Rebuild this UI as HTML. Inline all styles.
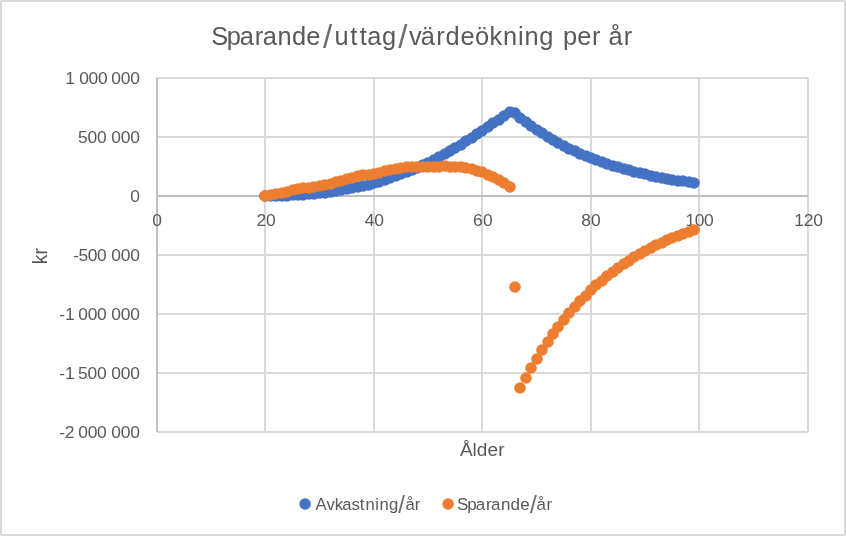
<!DOCTYPE html>
<html lang="sv"><head><meta charset="utf-8"><title>Sparande/uttag/värdeökning per år</title>
<style>html,body{margin:0;padding:0;background:#fff;overflow:hidden}svg{display:block}text{font-family:"Liberation Sans",sans-serif;fill:#595959}</style>
</head><body>
<svg width="846" height="536" viewBox="0 0 846 536">
<rect x="0" y="0" width="846" height="536" fill="#fff"/>
<rect x="1" y="1" width="844" height="534" fill="none" stroke="#D9D9D9" stroke-width="2"/>
<g fill="#ECECEC"><rect x="0" y="0" width="1" height="1"/><rect x="845" y="0" width="1" height="1"/><rect x="0" y="535" width="1" height="1"/><rect x="845" y="535" width="1" height="1"/></g>
<g stroke="#D9D9D9" stroke-width="2" fill="none">
<line x1="157" y1="78" x2="808" y2="78"/>
<line x1="157" y1="137" x2="808" y2="137"/>
<line x1="157" y1="255" x2="808" y2="255"/>
<line x1="157" y1="314" x2="808" y2="314"/>
<line x1="157" y1="373" x2="808" y2="373"/>
<line x1="157" y1="432" x2="808" y2="432"/>
<line x1="265" y1="78" x2="265" y2="432"/>
<line x1="374" y1="78" x2="374" y2="432"/>
<line x1="482" y1="78" x2="482" y2="432"/>
<line x1="591" y1="78" x2="591" y2="432"/>
<line x1="699" y1="78" x2="699" y2="432"/>
<line x1="808" y1="78" x2="808" y2="432"/>
</g>
<g stroke="#BFBFBF" stroke-width="2" fill="none">
<line x1="157" y1="196" x2="808" y2="196"/>
<line x1="157" y1="78" x2="157" y2="432"/>
</g>
<text font-size="25.4" x="211.27 226.66 239.64 254.8 262.67 277.55 291.9 306.35 322.97 334.41 350.2 359.76 367.13 382 398.37 408.93 420.66 436.14 445.57 460.39 474.98 489.55 503.06 517.97 524.6 539.2 554.44 562.9 577.22 591.99 607.23 608.47 623.72" y="44.7 44.7 44.7 44.7 44.7 44.7 44.7 44.7 48.3 44.7 44.7 44.7 44.7 44.7 48.3 44.7 44.7 44.7 44.7 44.7 44.7 44.7 44.7 44.7 44.7 44.7 44.7 44.7 44.7 44.7 44.7 44.7 44.7">Sparande<tspan font-size="33.0" fill="#6e6e6e">/</tspan>uttag<tspan font-size="33.0" fill="#6e6e6e">/</tspan>värdeökning per år</text>
<text transform="scale(1.05 1)" font-size="16.6" x="62.06 72.02 75.41 84.38 93.36 103.32 105.95 115.05 124.15" y="84.2">1 000 000</text>
<text transform="scale(1.05 1)" font-size="16.6" x="74.37 83.4 92.33 102.29 105.95 115.05 124.15" y="143.2">500 000</text>
<text transform="scale(1.05 1)" font-size="16.6" x="124.15" y="202.2">0</text>
<text transform="scale(1.05 1)" font-size="16.6" x="69.73 74.79 83.65 92.41 102.37 105.95 115.05 124.15" y="261.2">-500 000</text>
<text transform="scale(1.05 1)" font-size="16.6" x="56.43 61.86 71.82 74.61 83.48 92.35 102.31 105.95 115.05 124.15" y="320.2">-1 000 000</text>
<text transform="scale(1.05 1)" font-size="16.6" x="56.43 61.86 71.82 74.37 83.4 92.33 102.29 105.95 115.05 124.15" y="379.2">-1 500 000</text>
<text transform="scale(1.05 1)" font-size="16.6" x="56.42 61.71 71.67 74.61 83.48 92.35 102.31 105.95 115.05 124.15" y="438.2">-2 000 000</text>
<text transform="scale(1.05 1)" font-size="16.6" x="144.91" y="226.3">0</text>
<text transform="scale(1.05 1)" font-size="16.6" x="244.24 253.44" y="226.3">20</text>
<text transform="scale(1.05 1)" font-size="16.6" x="347.36 356.43" y="226.3">40</text>
<text transform="scale(1.05 1)" font-size="16.6" x="450.53 460.11" y="226.3">60</text>
<text transform="scale(1.05 1)" font-size="16.6" x="553.47 562.94" y="226.3">80</text>
<text transform="scale(1.05 1)" font-size="16.6" x="652.76 661.56 670.51" y="226.3">100</text>
<text transform="scale(1.05 1)" font-size="16.6" x="756.43 765.39 774.45" y="226.3">120</text>
<text transform="scale(1.008 1)" font-size="18.9" x="456.29 468.68 473.05 483.59 494.24" y="456.1">Ålder</text>
<text transform="translate(47.1 262.9) rotate(-90) scale(0.9928 1)" font-size="19.6" x="-1.43 8.47" y="0">kr</text>
<text transform="scale(1.012 1)" font-size="16.5" x="311.75 322.52 330.67 338.28 347.29 355.59 361.26 370.84 375.02 384.36 393.59 400.63 409.94" y="509.8 509.8 509.8 509.8 509.8 509.8 509.8 509.8 509.8 509.8 512.6 509.8 509.8">Avkastning<tspan font-size="23.5" fill="#6e6e6e">/</tspan>år</text>
<text transform="scale(1.03 1)" font-size="16.5" x="443.62 453.56 461.94 471.74 476.81 486.42 495.68 505.01 514.6 520.85 530.59" y="509.8 509.8 509.8 509.8 509.8 509.8 509.8 509.8 512.6 509.8 509.8">Sparande<tspan font-size="23.5" fill="#6e6e6e">/</tspan>år</text>
<g fill="#4472C4">
<circle cx="265" cy="196" r="5.80"/>
<circle cx="271" cy="196" r="5.80"/>
<circle cx="276" cy="196" r="5.80"/>
<circle cx="282" cy="196" r="5.80"/>
<circle cx="287" cy="196" r="5.80"/>
<circle cx="293" cy="195" r="5.80"/>
<circle cx="298" cy="195" r="5.80"/>
<circle cx="303" cy="195" r="5.80"/>
<circle cx="309" cy="194" r="5.80"/>
<circle cx="314" cy="194" r="5.80"/>
<circle cx="320" cy="193" r="5.80"/>
<circle cx="325" cy="193" r="5.80"/>
<circle cx="331" cy="192" r="5.80"/>
<circle cx="336" cy="191" r="5.80"/>
<circle cx="341" cy="190" r="5.80"/>
<circle cx="347" cy="189" r="5.80"/>
<circle cx="352" cy="188" r="5.80"/>
<circle cx="358" cy="187" r="5.80"/>
<circle cx="363" cy="186" r="5.80"/>
<circle cx="369" cy="185" r="5.80"/>
<circle cx="374" cy="183" r="5.80"/>
<circle cx="379" cy="182" r="5.80"/>
<circle cx="385" cy="180" r="5.80"/>
<circle cx="390" cy="178" r="5.80"/>
<circle cx="396" cy="176" r="5.80"/>
<circle cx="401" cy="174" r="5.80"/>
<circle cx="407" cy="172" r="5.80"/>
<circle cx="412" cy="170" r="5.80"/>
<circle cx="417" cy="168" r="5.80"/>
<circle cx="423" cy="165" r="5.80"/>
<circle cx="428" cy="163" r="5.80"/>
<circle cx="434" cy="160" r="5.80"/>
<circle cx="439" cy="157" r="5.80"/>
<circle cx="445" cy="154" r="5.80"/>
<circle cx="450" cy="151" r="5.80"/>
<circle cx="455" cy="148" r="5.80"/>
<circle cx="461" cy="145" r="5.80"/>
<circle cx="466" cy="141" r="5.80"/>
<circle cx="472" cy="138" r="5.80"/>
<circle cx="477" cy="134" r="5.80"/>
<circle cx="482" cy="131" r="5.80"/>
<circle cx="488" cy="127" r="5.80"/>
<circle cx="493" cy="123" r="5.80"/>
<circle cx="499" cy="120" r="5.80"/>
<circle cx="504" cy="116" r="5.80"/>
<circle cx="510" cy="112" r="5.80"/>
<circle cx="515" cy="113" r="5.80"/>
<circle cx="520" cy="118" r="5.80"/>
<circle cx="526" cy="122" r="5.80"/>
<circle cx="531" cy="126" r="5.80"/>
<circle cx="537" cy="130" r="5.80"/>
<circle cx="542" cy="133" r="5.80"/>
<circle cx="548" cy="137" r="5.80"/>
<circle cx="553" cy="140" r="5.80"/>
<circle cx="558" cy="143" r="5.80"/>
<circle cx="564" cy="146" r="5.80"/>
<circle cx="569" cy="149" r="5.80"/>
<circle cx="575" cy="151" r="5.80"/>
<circle cx="580" cy="154" r="5.80"/>
<circle cx="586" cy="156" r="5.80"/>
<circle cx="591" cy="158" r="5.80"/>
<circle cx="596" cy="160" r="5.80"/>
<circle cx="602" cy="162" r="5.80"/>
<circle cx="607" cy="164" r="5.80"/>
<circle cx="613" cy="166" r="5.80"/>
<circle cx="618" cy="167" r="5.80"/>
<circle cx="624" cy="169" r="5.80"/>
<circle cx="629" cy="170" r="5.80"/>
<circle cx="634" cy="172" r="5.80"/>
<circle cx="640" cy="173" r="5.80"/>
<circle cx="645" cy="174" r="5.80"/>
<circle cx="651" cy="176" r="5.80"/>
<circle cx="656" cy="177" r="5.80"/>
<circle cx="662" cy="178" r="5.80"/>
<circle cx="667" cy="179" r="5.80"/>
<circle cx="672" cy="180" r="5.80"/>
<circle cx="678" cy="181" r="5.80"/>
<circle cx="683" cy="181" r="5.80"/>
<circle cx="689" cy="182" r="5.80"/>
<circle cx="694" cy="183" r="5.80"/>
</g>
<g fill="#ED7D31">
<circle cx="265" cy="196" r="5.80"/>
<circle cx="271" cy="195" r="5.80"/>
<circle cx="276" cy="194" r="5.80"/>
<circle cx="282" cy="193" r="5.80"/>
<circle cx="287" cy="192" r="5.80"/>
<circle cx="293" cy="190" r="5.80"/>
<circle cx="298" cy="189" r="5.80"/>
<circle cx="303" cy="188" r="5.80"/>
<circle cx="309" cy="188" r="5.80"/>
<circle cx="314" cy="187" r="5.80"/>
<circle cx="320" cy="186" r="5.80"/>
<circle cx="325" cy="185" r="5.80"/>
<circle cx="331" cy="184" r="5.80"/>
<circle cx="336" cy="182" r="5.80"/>
<circle cx="341" cy="181" r="5.80"/>
<circle cx="347" cy="179" r="5.80"/>
<circle cx="352" cy="178" r="5.80"/>
<circle cx="358" cy="176" r="5.80"/>
<circle cx="363" cy="175" r="5.80"/>
<circle cx="369" cy="175" r="5.80"/>
<circle cx="374" cy="174" r="5.80"/>
<circle cx="379" cy="173" r="5.80"/>
<circle cx="385" cy="171" r="5.80"/>
<circle cx="390" cy="170" r="5.80"/>
<circle cx="396" cy="169" r="5.80"/>
<circle cx="401" cy="168" r="5.80"/>
<circle cx="407" cy="167" r="5.80"/>
<circle cx="412" cy="167" r="5.80"/>
<circle cx="417" cy="167" r="5.80"/>
<circle cx="423" cy="167" r="5.80"/>
<circle cx="428" cy="167" r="5.80"/>
<circle cx="434" cy="167" r="5.80"/>
<circle cx="439" cy="167" r="5.80"/>
<circle cx="445" cy="166" r="5.80"/>
<circle cx="450" cy="167" r="5.80"/>
<circle cx="455" cy="167" r="5.80"/>
<circle cx="461" cy="167" r="5.80"/>
<circle cx="466" cy="168" r="5.80"/>
<circle cx="472" cy="169" r="5.80"/>
<circle cx="477" cy="171" r="5.80"/>
<circle cx="482" cy="172" r="5.80"/>
<circle cx="488" cy="175" r="5.80"/>
<circle cx="493" cy="177" r="5.80"/>
<circle cx="499" cy="180" r="5.80"/>
<circle cx="504" cy="183" r="5.80"/>
<circle cx="510" cy="187" r="5.80"/>
<circle cx="515" cy="287" r="5.80"/>
<circle cx="520" cy="388" r="5.80"/>
<circle cx="526" cy="378" r="5.80"/>
<circle cx="531" cy="368" r="5.80"/>
<circle cx="537" cy="359" r="5.80"/>
<circle cx="542" cy="350" r="5.80"/>
<circle cx="548" cy="342" r="5.80"/>
<circle cx="553" cy="334" r="5.80"/>
<circle cx="558" cy="327" r="5.80"/>
<circle cx="564" cy="320" r="5.80"/>
<circle cx="569" cy="313" r="5.80"/>
<circle cx="575" cy="307" r="5.80"/>
<circle cx="580" cy="301" r="5.80"/>
<circle cx="586" cy="296" r="5.80"/>
<circle cx="591" cy="290" r="5.80"/>
<circle cx="596" cy="285" r="5.80"/>
<circle cx="602" cy="281" r="5.80"/>
<circle cx="607" cy="276" r="5.80"/>
<circle cx="613" cy="272" r="5.80"/>
<circle cx="618" cy="268" r="5.80"/>
<circle cx="624" cy="264" r="5.80"/>
<circle cx="629" cy="261" r="5.80"/>
<circle cx="634" cy="257" r="5.80"/>
<circle cx="640" cy="254" r="5.80"/>
<circle cx="645" cy="251" r="5.80"/>
<circle cx="651" cy="248" r="5.80"/>
<circle cx="656" cy="245" r="5.80"/>
<circle cx="662" cy="243" r="5.80"/>
<circle cx="667" cy="240" r="5.80"/>
<circle cx="672" cy="238" r="5.80"/>
<circle cx="678" cy="236" r="5.80"/>
<circle cx="683" cy="234" r="5.80"/>
<circle cx="689" cy="232" r="5.80"/>
<circle cx="694" cy="230" r="5.80"/>
</g>
<circle cx="305.1" cy="504" r="5.8" fill="#4472C4"/>
<circle cx="448.1" cy="504" r="5.8" fill="#ED7D31"/>
</svg>
</body></html>
